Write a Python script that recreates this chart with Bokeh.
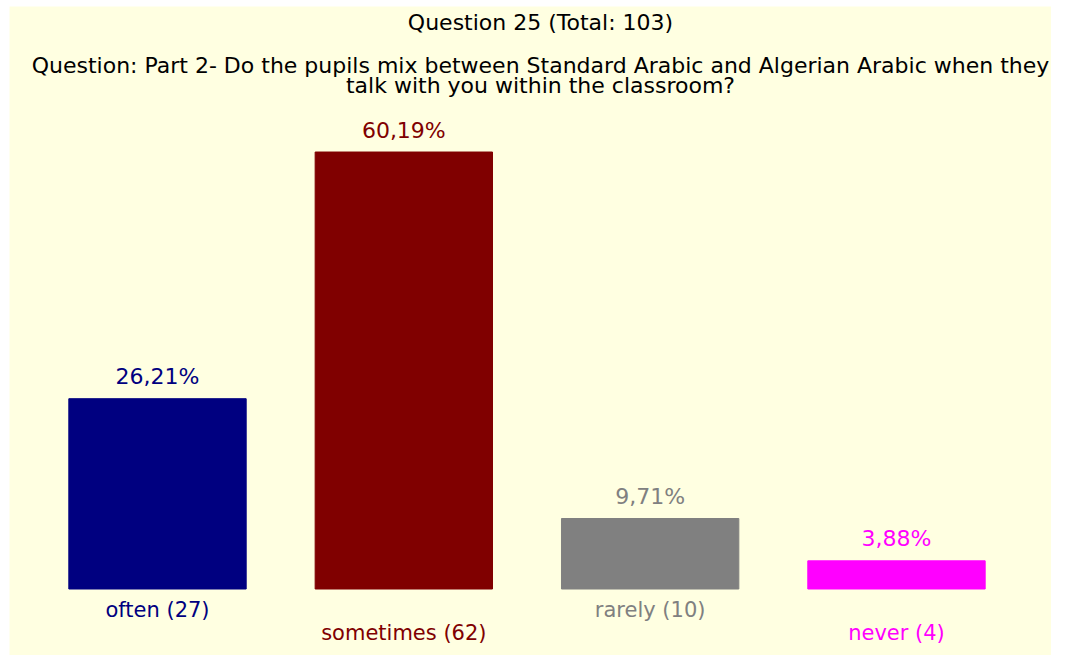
from bokeh.plotting import figure
from bokeh.models import ColumnDataSource, Range1d
from bokeh.core.properties import value
from bokeh.embed import file_html
from bokeh.resources import INLINE

# ---- data ----
categories = ["often", "sometimes", "rarely", "never"]
counts = [27, 62, 10, 4]
percents = [26.21, 60.19, 9.71, 3.88]
total = 103
title_text = "Question 25 (Total: 103)"
question_lines = ["Question: Part 2- Do the pupils mix between Standard Arabic and Algerian Arabic when they",
                  "talk with you within the classroom?"]

# ---- styles ----
colors = ["#000080", "#800000", "#808080", "#FF00FF"]
label_offsets = [21, 44, 21, 44]
FONT = "DejaVu Sans"
BG = "#FFFFE1"

W, H = 1051, 655
LEFT, TOP = 9, 6
FW, FH = W - LEFT, H - TOP
px_per_unit = 246.33
x_start = -148 / px_per_unit
px_per_pct = 7.26
y_start = -66.5 / px_per_pct

p = figure(width=W, height=H, output_backend="svg", toolbar_location=None,
           x_range=Range1d(x_start, x_start + FW / px_per_unit),
           y_range=Range1d(y_start, y_start + FH / px_per_pct),
           min_border=0, min_border_left=LEFT, min_border_right=0,
           min_border_top=TOP, min_border_bottom=0)
p.axis.visible = False
p.grid.visible = False
p.outline_line_color = None
p.background_fill_color = BG
p.border_fill_color = "white"

xs = list(range(len(categories)))
src = ColumnDataSource(dict(
    x=xs,
    top=percents,
    color=colors,
    pct=[("%.2f%%" % v).replace(".", ",") for v in percents],
    cat=["%s (%d)" % (c, n) for c, n in zip(categories, counts)],
    zero=[0] * len(categories),
    off=label_offsets,
))

p.vbar(x="x", top="top", bottom=0, width=0.72, fill_color="color",
       line_color="color", source=src)

p.text(x="x", y="top", text="pct", text_color="color", text_align="center",
       text_baseline="middle", y_offset=-22, text_font=value(FONT),
       text_font_size="22px", source=src)

p.text(x="x", y="zero", text="cat", text_color="color", text_align="center",
       text_baseline="middle", y_offset="off", text_font=value(FONT),
       text_font_size="21px", source=src)

# titles
y_top = y_start + FH / px_per_pct
x_mid = x_start + (540 - LEFT) / px_per_unit
p.text(x=[x_mid], y=[y_top], text=[title_text], text_align="center",
       text_baseline="middle", y_offset=16, text_font=value(FONT),
       text_font_size="22px", text_color="black")
p.text(x=[x_mid, x_mid], y=[y_top, y_top], text=question_lines,
       text_align="center", text_baseline="middle", y_offset=[59, 79],
       text_font=value(FONT), text_font_size="22px", text_color="black")

open("out.html", "w").write(file_html(p, INLINE))
